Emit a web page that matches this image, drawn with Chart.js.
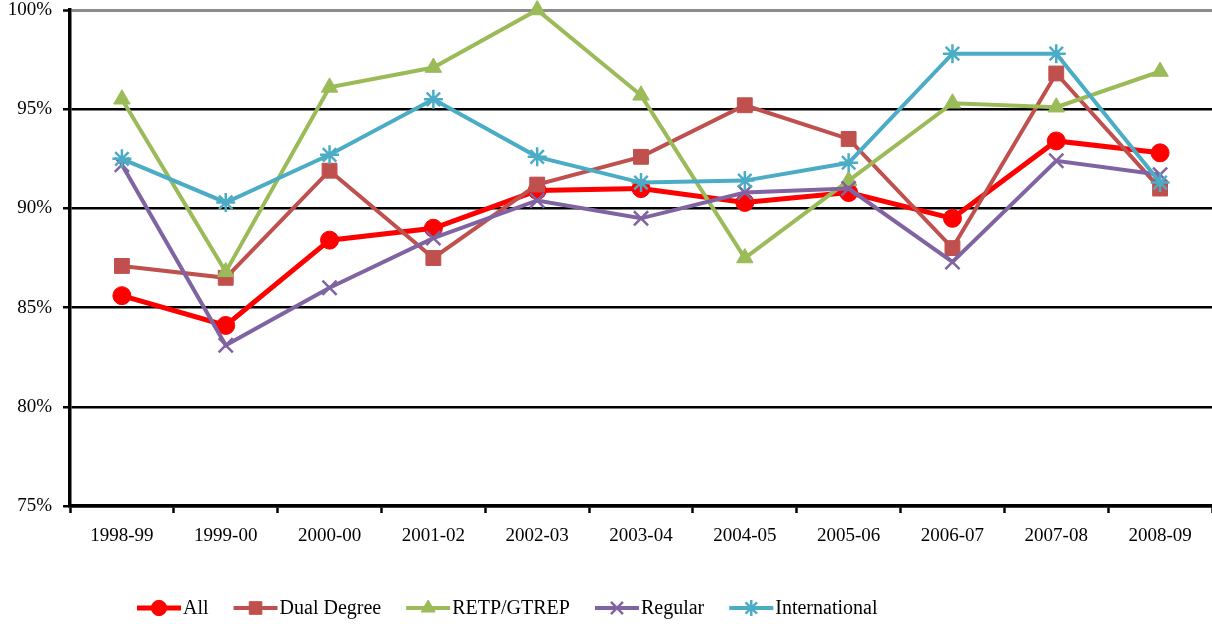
<!DOCTYPE html>
<html>
<head>
<meta charset="utf-8">
<script src="https://cdn.jsdelivr.net/npm/chart.js@4.4.1/dist/chart.umd.min.js"></script>
<style>
    body { margin: 0; background: #fff; overflow: hidden; }
    #wrap { position: relative; width: 1212px; height: 624px; }
</style>
</head>
<body>
<div id="wrap"><canvas id="rateChart"></canvas></div>
<script>
const categories = ["1998-99", "1999-00", "2000-00", "2001-02", "2002-03", "2003-04", "2004-05", "2005-06", "2006-07", "2007-08", "2008-09"];
const allRates = [85.6, 84.1, 88.4, 89.0, 90.9, 91.0, 90.3, 90.8, 89.5, 93.4, 92.8];
const dualDegree = [87.1, 86.5, 91.9, 87.5, 91.2, 92.6, 95.2, 93.5, 88.0, 96.8, 91.0];
const retpGtrep = [95.5, 86.8, 96.1, 97.1, 100, 95.7, 87.5, 91.4, 95.3, 95.1, 96.9];
const regular = [92.2, 83.1, 86.0, 88.5, 90.4, 89.5, 90.8, 91.0, 87.3, 92.4, 91.7];
const international = [92.5, 90.3, 92.7, 95.5, 92.6, 91.3, 91.4, 92.3, 97.8, 97.8, 91.3];
const yTicks = [75, 80, 85, 90, 95, 100];

const serif = "'Liberation Serif', 'Times New Roman', serif";

function series(label, data, color, style, radius, width, order) {
    return {
        label: label,
        data: data,
        borderColor: color,
        backgroundColor: color,
        borderWidth: width,
        pointStyle: style,
        pointRadius: radius,
        pointBorderWidth: (style === "crossRot" || style === "star") ? 2.5 : 1,
        pointBorderColor: color,
        pointBackgroundColor: color,
        tension: 0,
        clip: false,
        order: order
    };
}

const datasets = [
    series("All", allRates, "#FF0000", "circle", 9, 5, 5),
    series("Dual Degree", dualDegree, "#C0504D", "rect", 10.5, 4, 4),
    series("RETP/GTREP", retpGtrep, "#9BBB59", "triangle", 9.5, 4, 3),
    series("Regular", regular, "#8064A2", "crossRot", 10, 4, 2),
    series("International", international, "#4BACC6", "star", 9.5, 4, 1)
];

// legend drawn under the plot: short line with the marker in the middle, then the label
const lineLegend = {
    id: "lineLegend",
    afterDraw(chart) {
        const ctx = chart.ctx;
        let x = 137;
        const y = 608;
        ctx.save();
        ctx.font = "20px " + serif;
        ctx.textBaseline = "middle";
        chart.data.datasets.forEach(ds => {
            ctx.strokeStyle = ds.borderColor;
            ctx.fillStyle = ds.borderColor;
            ctx.lineWidth = ds.borderWidth;
            ctx.beginPath();
            ctx.moveTo(x, y);
            ctx.lineTo(x + 44, y);
            ctx.stroke();
            const opts = { pointStyle: ds.pointStyle, radius: ds.pointRadius * 0.85, borderWidth: ds.pointBorderWidth, rotation: 0 };
            if (Chart.helpers && Chart.helpers.drawPoint) {
                ctx.lineWidth = ds.pointBorderWidth;
                Chart.helpers.drawPoint(ctx, opts, x + 22, y);
            }
            ctx.fillStyle = "#000";
            ctx.fillText(ds.label, x + 46, y + 1);
            x += 46 + ctx.measureText(ds.label).width + 25;
        });
        ctx.restore();
    }
};

const ctx = document.getElementById("rateChart").getContext("2d");
const chart = new Chart(ctx, {
    type: "line",
    data: { labels: categories, datasets: datasets },
    options: {
        responsive: true,
        maintainAspectRatio: false,
        animation: false,
        layout: { autoPadding: false, padding: { top: 10, right: 0, bottom: 64, left: 0 } },
        plugins: {
            legend: { display: false },
            tooltip: { enabled: false }
        },
        scales: {
            x: {
                offset: true,
                grid: {
                    offset: true,
                    drawOnChartArea: false,
                    drawTicks: true,
                    tickLength: 7,
                    tickColor: "#000",
                    tickWidth: 2.5
                },
                border: { color: "#000", width: 3.5 },
                ticks: {
                    color: "#000",
                    padding: 12,
                    maxRotation: 0,
                    autoSkip: false,
                    font: { family: serif, size: 19 }
                },
                afterFit: scale => {
                    scale.height = 54;
                    scale.paddingLeft = 0;
                    scale.paddingRight = 0;
                }
            },
            y: {
                min: 75,
                max: 100,
                afterBuildTicks: scale => { scale.ticks = yTicks.map(v => ({ value: v })); },
                grid: {
                    color: c => (c.tick && c.tick.value === 100) ? "#8C8C8C" : "#000",
                    lineWidth: c => (c.tick && c.tick.value === 100) ? 3 : 2.5,
                    tickColor: "#000",
                    tickLength: 7,
                    tickWidth: 2.5
                },
                border: { color: "#000", width: 3.5 },
                ticks: {
                    color: "#000",
                    padding: 11,
                    font: { family: serif, size: 19 },
                    callback: v => v + "%"
                },
                afterFit: scale => {
                    scale.width = 70;
                    scale.paddingTop = 0;
                    scale.paddingBottom = 0;
                }
            }
        }
    },
    plugins: [lineLegend]
});
</script>
</body>
</html>
